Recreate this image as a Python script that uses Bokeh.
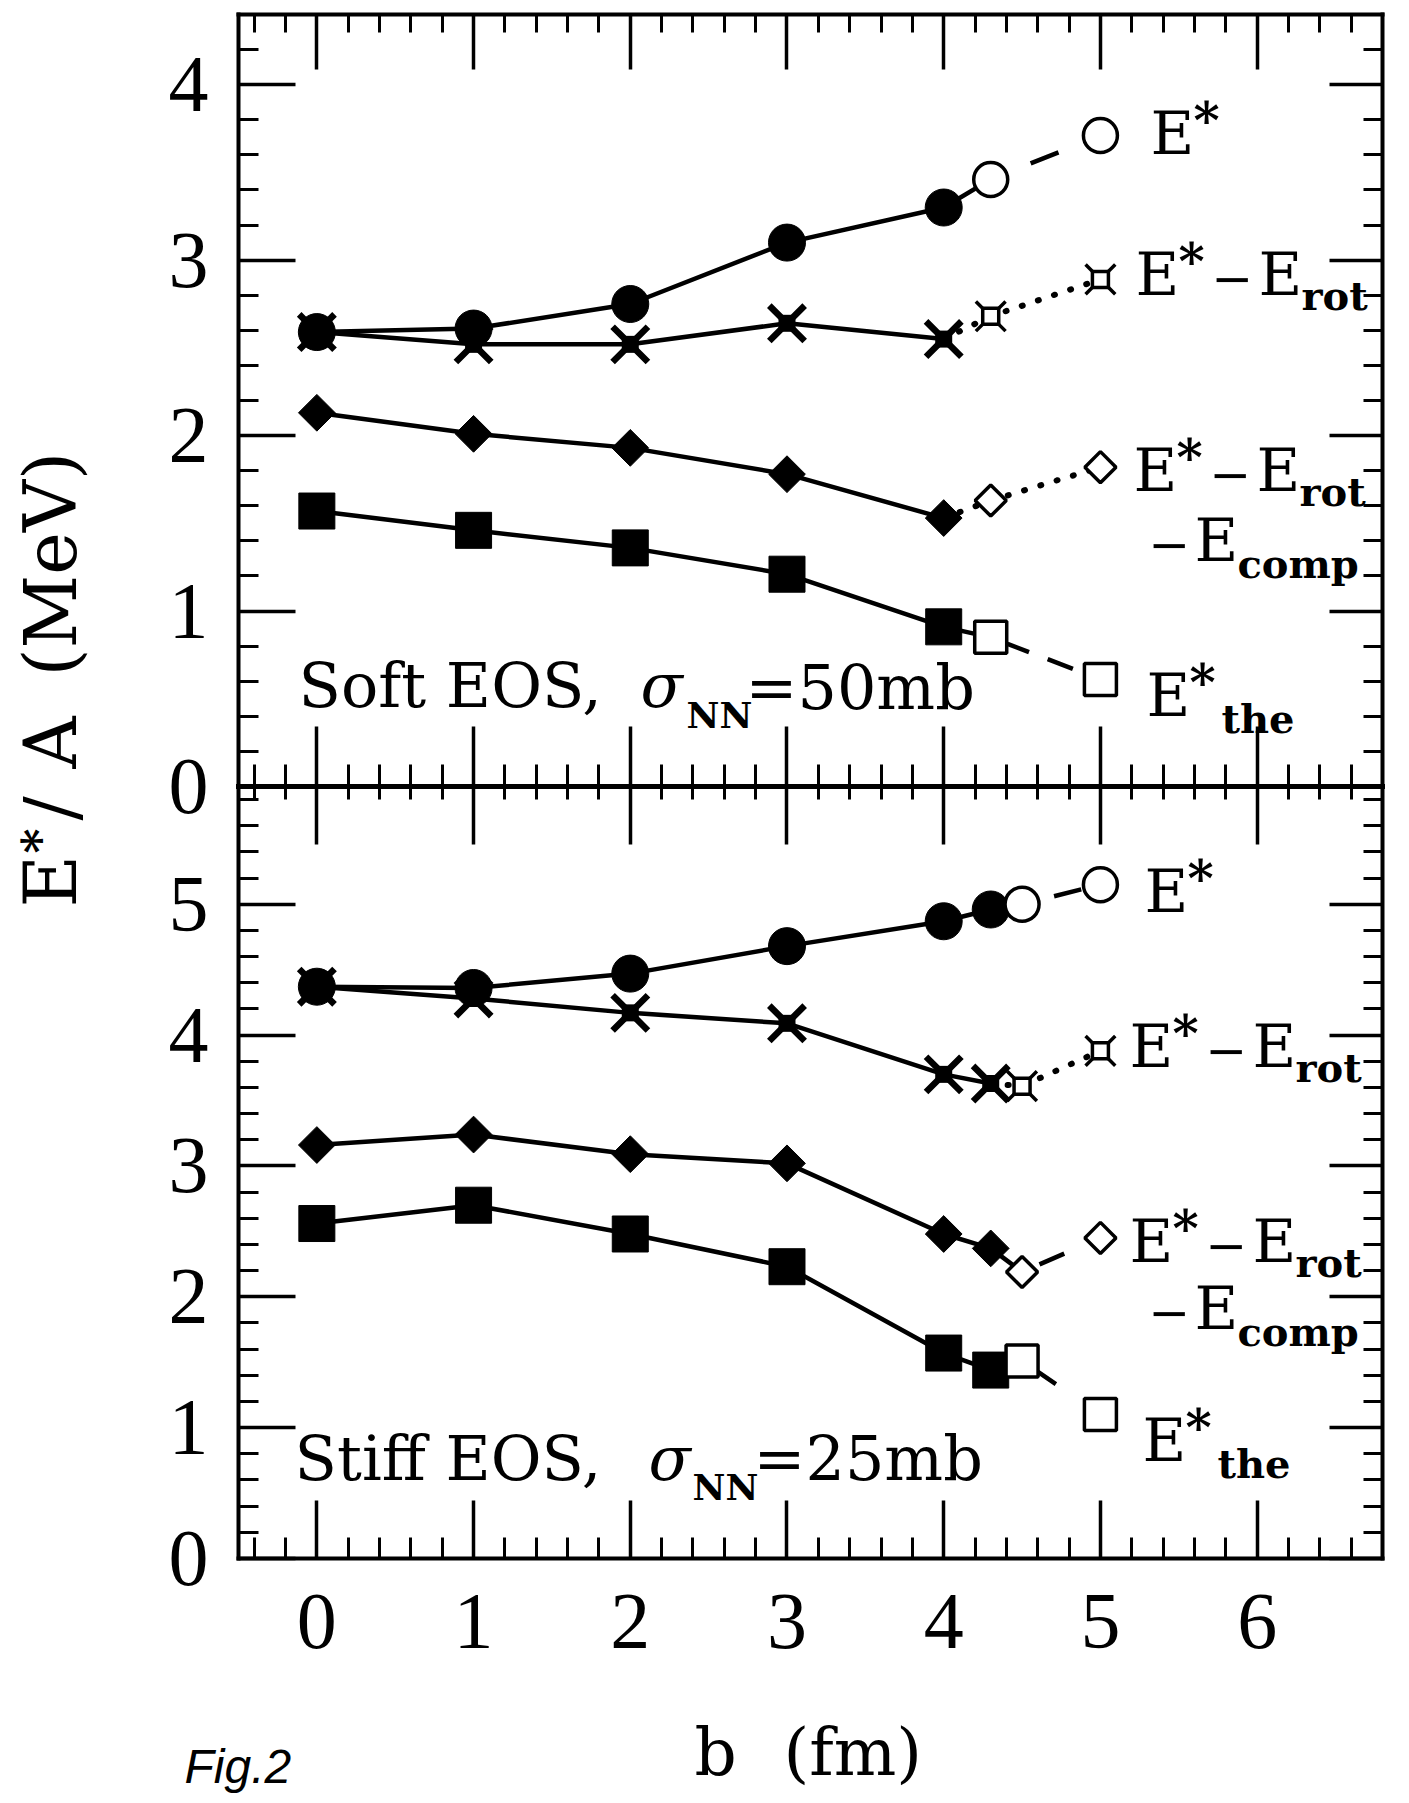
import numpy as np
from bokeh.plotting import figure
from bokeh.models import Range1d, LinearAxis, FixedTicker, Label
from bokeh.embed import file_html
from bokeh.resources import INLINE

# ---------------- data ----------------
# upper panel: Soft EOS, sigma_NN = 50 mb
soft_b = [0, 1, 2, 3, 4]
soft_estar = [2.59, 2.61, 2.75, 3.10, 3.30]
soft_erot = [2.59, 2.52, 2.52, 2.64, 2.55]
soft_ecomp = [2.13, 2.01, 1.93, 1.78, 1.53]
soft_ethe = [1.57, 1.46, 1.36, 1.21, 0.91]
soft_b_open = [4.3, 5.0]
soft_estar_open = [3.46, 3.71]
soft_erot_open = [2.68, 2.89]
soft_ecomp_open = [1.63, 1.82]
soft_ethe_open = [0.85, 0.61]

# lower panel: Stiff EOS, sigma_NN = 25 mb
stiff_b = [0, 1, 2, 3, 4, 4.3]
stiff_estar = [4.37, 4.36, 4.47, 4.68, 4.87, 4.96]
stiff_erot = [4.37, 4.28, 4.17, 4.09, 3.70, 3.63]
stiff_ecomp = [3.16, 3.24, 3.09, 3.02, 2.48, 2.37]
stiff_ethe = [2.56, 2.70, 2.48, 2.23, 1.57, 1.44]
stiff_b_open = [4.5, 5.0]
stiff_estar_open = [5.00, 5.15]
stiff_erot_open = [3.61, 3.88]
stiff_ecomp_open = [2.19, 2.45]
stiff_ethe_open = [1.51, 1.10]

x_ticks = [0, 1, 2, 3, 4, 5, 6]
top_y_ticks = [0, 1, 2, 3, 4]
bot_y_ticks = [0, 1, 2, 3, 4, 5]

# ---------------- layout ----------------
X_START, X_END = -0.5, 6.8      # panel x extent
TOP_MAX = 4.4                   # upper panel 0..4.4
BOT_MAX = 5.9                   # lower panel 0..5.9
W, H = 1401, 1795
# panel box in canvas pixels
BOX_L, BOX_R, BOX_T, BOX_B = 238, 1382, 14, 1558
BOX_MID = (BOX_T + BOX_B) / 2.0

sx = (BOX_R - BOX_L) / (X_END - X_START)
sy_top = (BOX_MID - BOX_T) / TOP_MAX
sy_bot = (BOX_B - BOX_MID) / BOT_MAX

x_rng = Range1d(X_START - BOX_L / sx, X_END + (W - BOX_R) / sx)
y_rng = Range1d(-(H - BOX_MID) / sy_top, BOX_MID / sy_top)      # upper panel units, 0 at middle line
bot_rng = Range1d(-(H - BOX_B) / sy_bot, BOX_B / sy_bot)        # lower panel units, 0 at bottom edge


def minors(a, b, step=0.2):
    out = []
    for v in np.arange(a, b + 1e-9, step):
        v = round(float(v), 1)
        if abs(v - round(v)) > 1e-6:
            out.append(v)
    return out


x_minor = minors(-0.4, 6.6)
top_minor = minors(0.2, 4.2)
bot_minor = minors(0.2, 5.8)

p = figure(width=W, height=H, x_range=x_rng, y_range=y_rng,
           output_backend="svg", toolbar_location=None,
           x_axis_location=None, y_axis_location=None,
           min_border=0)
p.extra_y_ranges = {"bot": bot_rng}
p.outline_line_color = None
p.background_fill_color = "white"
p.border_fill_color = "white"
p.grid.visible = False

TICK_FONT = "Liberation Serif"
TICK_SIZE = "80px"
FRAME_W = 4


def labelled_axis(side, fixed, ticks, minor, bounds, tin, min_in, standoff, rn=None):
    kw = dict(fixed_location=fixed, bounds=bounds,
              ticker=FixedTicker(ticks=ticks, minor_ticks=minor))
    if rn:
        kw["y_range_name"] = rn
    ax = LinearAxis(**kw)
    ax.major_tick_in = tin
    ax.major_tick_out = 0
    ax.minor_tick_in = min_in
    ax.minor_tick_out = 0
    ax.major_tick_line_width = 3.5
    ax.minor_tick_line_width = 3
    ax.axis_line_width = FRAME_W
    ax.axis_line_cap = "square"
    ax.major_label_text_font = TICK_FONT
    ax.major_label_text_font_size = TICK_SIZE
    ax.major_label_text_color = "black"
    ax.major_label_standoff = standoff
    p.add_layout(ax, side)


def tick_axis(side, fixed, positions, bounds, tin, tout, line_w=None, rn=None):
    # an axis carrying only unlabelled tick marks
    kw = dict(fixed_location=fixed, bounds=bounds,
              ticker=FixedTicker(ticks=[], minor_ticks=positions))
    if rn:
        kw["y_range_name"] = rn
    ax = LinearAxis(**kw)
    ax.major_tick_line_color = None
    ax.minor_tick_in = tin
    ax.minor_tick_out = tout
    ax.minor_tick_line_width = 3.5 if tin > 30 else 3
    if line_w:
        ax.axis_line_width = line_w
        ax.axis_line_cap = "square"
    else:
        ax.axis_line_color = None
    p.add_layout(ax, side)


XB = (X_START, X_END)
# left edge (labelled)
labelled_axis("left", X_START, top_y_ticks, top_minor, (0, TOP_MAX), 57, 20, 30)
labelled_axis("left", X_START, bot_y_ticks, bot_minor, (0, BOT_MAX), 57, 20, 30, rn="bot")
# right edge
tick_axis("right", X_END, top_y_ticks, (0, TOP_MAX), 53, 0, line_w=FRAME_W)
tick_axis("right", X_END, top_minor, (0, TOP_MAX), 19, 0)
tick_axis("right", X_END, bot_y_ticks, (0, BOT_MAX), 53, 0, line_w=FRAME_W, rn="bot")
tick_axis("right", X_END, bot_minor, (0, BOT_MAX), 19, 0, rn="bot")
# top edge
tick_axis("above", TOP_MAX, x_ticks, XB, 55, 0, line_w=FRAME_W)
tick_axis("above", TOP_MAX, x_minor, XB, 18, 0)
# shared middle line
tick_axis("below", 0, x_ticks, XB, 60, 58, line_w=5)
tick_axis("below", 0, x_minor, XB, 22, 13)
# bottom edge (labelled)
labelled_axis("below", -TOP_MAX, x_ticks, x_minor, XB, 58, 21, 36)

# ---------------- lines ----------------
LW = 4.5
DOT = dict(line_dash="1 16", line_cap="round", line_width=6, color="black")


def solid(xs, ys, rn):
    p.line(xs, ys, line_width=LW, color="black", y_range_name=rn)


def dashed(xs, ys, rn, pattern):
    p.line(xs, ys, line_width=LW, color="black", line_dash=pattern, y_range_name=rn)


def dotted(xs, ys, rn):
    p.line(xs, ys, y_range_name=rn, **DOT)


# upper panel
solid(soft_b + soft_b_open[:1], soft_estar + soft_estar_open[:1], "default")
dashed(soft_b_open, soft_estar_open, "default", "0 43 30 300")
solid(soft_b, soft_erot, "default")
dotted(soft_b[-1:] + soft_b_open, soft_erot[-1:] + soft_erot_open, "default")
solid(soft_b, soft_ecomp, "default")
dotted(soft_b[-1:] + soft_b_open, soft_ecomp[-1:] + soft_ecomp_open, "default")
solid(soft_b + soft_b_open[:1], soft_ethe + soft_ethe_open[:1], "default")
dashed(soft_b_open, soft_ethe_open, "default", "0 18 23 20 27 300")

# lower panel
solid(stiff_b + stiff_b_open[:1], stiff_estar + stiff_estar_open[:1], "bot")
dashed(stiff_b_open, stiff_estar_open, "bot", "0 33 28 300")
solid(stiff_b, stiff_erot, "bot")
dotted(stiff_b[-1:] + stiff_b_open, stiff_erot[-1:] + stiff_erot_open, "bot")
solid(stiff_b + stiff_b_open[:1], stiff_ecomp + stiff_ecomp_open[:1], "bot")
dashed(stiff_b_open, stiff_ecomp_open, "bot", "0 19 27 300")
solid(stiff_b + stiff_b_open[:1], stiff_ethe + stiff_ethe_open[:1], "bot")
dashed(stiff_b_open, stiff_ethe_open, "bot", "0 18 23 300")

# ---------------- markers ----------------
OLW = 3.5


def filled_circle(x, y, rn):
    p.scatter(x, y, marker="circle", size=37, fill_color="black", line_color="black", y_range_name=rn)


def open_circle(x, y, rn):
    p.scatter(x, y, marker="circle", size=34, fill_color="white", line_color="black",
              line_width=OLW, y_range_name=rn)


def filled_cross(x, y, rn):
    p.scatter(x, y, marker="x", size=50, line_color="black", line_width=6.5, y_range_name=rn)
    p.scatter(x, y, marker="square", size=17, fill_color="black", line_color=None, y_range_name=rn)


def open_cross(x, y, rn):
    p.scatter(x, y, marker="x", size=42, line_color="black", line_width=OLW, y_range_name=rn)
    p.scatter(x, y, marker="square", size=16, fill_color="white", line_color="black",
              line_width=OLW, y_range_name=rn)


def filled_diamond(x, y, rn):
    p.scatter(x, y, marker="square", angle=np.pi / 4, size=26, fill_color="black",
              line_color="black", y_range_name=rn)


def open_diamond(x, y, rn):
    p.scatter(x, y, marker="square", angle=np.pi / 4, size=22, fill_color="white",
              line_color="black", line_width=OLW, y_range_name=rn)


def filled_square(x, y, rn):
    p.scatter(x, y, marker="square", size=36, fill_color="black", line_color="black", y_range_name=rn)


def open_square(x, y, rn):
    p.scatter(x, y, marker="square", size=32, fill_color="white", line_color="black",
              line_width=OLW, y_range_name=rn)


for rn, b, es, er, ec, et, bo, eso, ero, eco, eto in [
    ("default", soft_b, soft_estar, soft_erot, soft_ecomp, soft_ethe,
     soft_b_open, soft_estar_open, soft_erot_open, soft_ecomp_open, soft_ethe_open),
    ("bot", stiff_b, stiff_estar, stiff_erot, stiff_ecomp, stiff_ethe,
     stiff_b_open, stiff_estar_open, stiff_erot_open, stiff_ecomp_open, stiff_ethe_open)]:
    filled_square(b, et, rn)
    filled_diamond(b, ec, rn)
    filled_circle(b, es, rn)
    filled_cross(b, er, rn)
    open_square(bo, eto, rn)
    open_diamond(bo, eco, rn)
    open_circle(bo, eso, rn)
    open_cross(bo, ero, rn)

# ---------------- texts ----------------
# canvas pixel -> data coordinate helpers for annotation placement


def dx(px):
    return x_rng.start + px / sx


def dy(py):
    return y_rng.end - py / sy_top


SERIF = "DejaVu Serif"
BASE_SHIFT = 0.38   # measured offset of the rendered baseline, in em


def txt(s, px, py, size, font=SERIF, style="normal", angle=0.0):
    if angle:
        px = px - BASE_SHIFT * size
    else:
        py = py - BASE_SHIFT * size
    p.add_layout(Label(x=dx(px), y=dy(py), text=s, text_font=font,
                       text_font_size=f"{size}px", text_font_style=style,
                       text_color="black", text_align="left",
                       text_baseline="alphabetic", angle=angle))


EF = 60     # main letter size
SF = 50     # superscript star / minus size
BF = 40     # bold subscript size


def e_star(ex, eb):
    txt("E", ex, eb, EF)
    txt("*", ex + 43, eb - 16, SF, style="bold")


def e_star_rot(ex, eb):
    e_star(ex, eb)
    txt("\u2212", ex + 76, eb, SF)
    txt("E", ex + 123, eb, EF)
    txt("rot", ex + 166, eb + 14, BF, style="bold")


def comp(eb):
    txt("\u2212", 1148, eb, SF)
    txt("E", 1194, eb, EF)
    txt("comp", 1237, eb + 16, BF, style="bold")


def e_the(ex, eb):
    e_star(ex, eb)
    txt("the", ex + 75, eb + 16, BF, style="bold")


# upper panel labels
e_star(1150, 155)
e_star_rot(1135, 296)
e_star_rot(1133, 492)
comp(562)
e_the(1146, 717)
txt("Soft EOS,", 298, 709, 62)
txt("\u03c3", 640, 709, 62, style="italic")
txt("NN", 686, 728, 36, style="bold")
txt("=50mb", 745, 711, 62)

# lower panel labels
e_star(1144, 913)
e_star_rot(1129, 1068)
e_star_rot(1129, 1263)
comp(1330)
e_the(1142, 1462)
txt("Stiff EOS,", 294, 1482, 62)
txt("\u03c3", 648, 1482, 62, style="italic")
txt("NN", 692, 1500, 36, style="bold")
txt("=25mb", 753, 1482, 62)

# axis titles
YL = 72
txt("E", 78, 907, YL, angle=np.pi / 2)
txt("*", 58, 853, 48, style="bold", angle=np.pi / 2)
txt("/", 78, 820, YL, angle=np.pi / 2)
txt("A", 78, 768, YL, angle=np.pi / 2)
txt("(MeV)", 78, 676, YL, angle=np.pi / 2)
txt("b", 694, 1777, 66)
txt("(fm)", 783, 1777, 66)
txt("Fig.2", 184, 1784, 48, font="Liberation Sans", style="italic")

open("out.html", "w").write(file_html(p, INLINE))
